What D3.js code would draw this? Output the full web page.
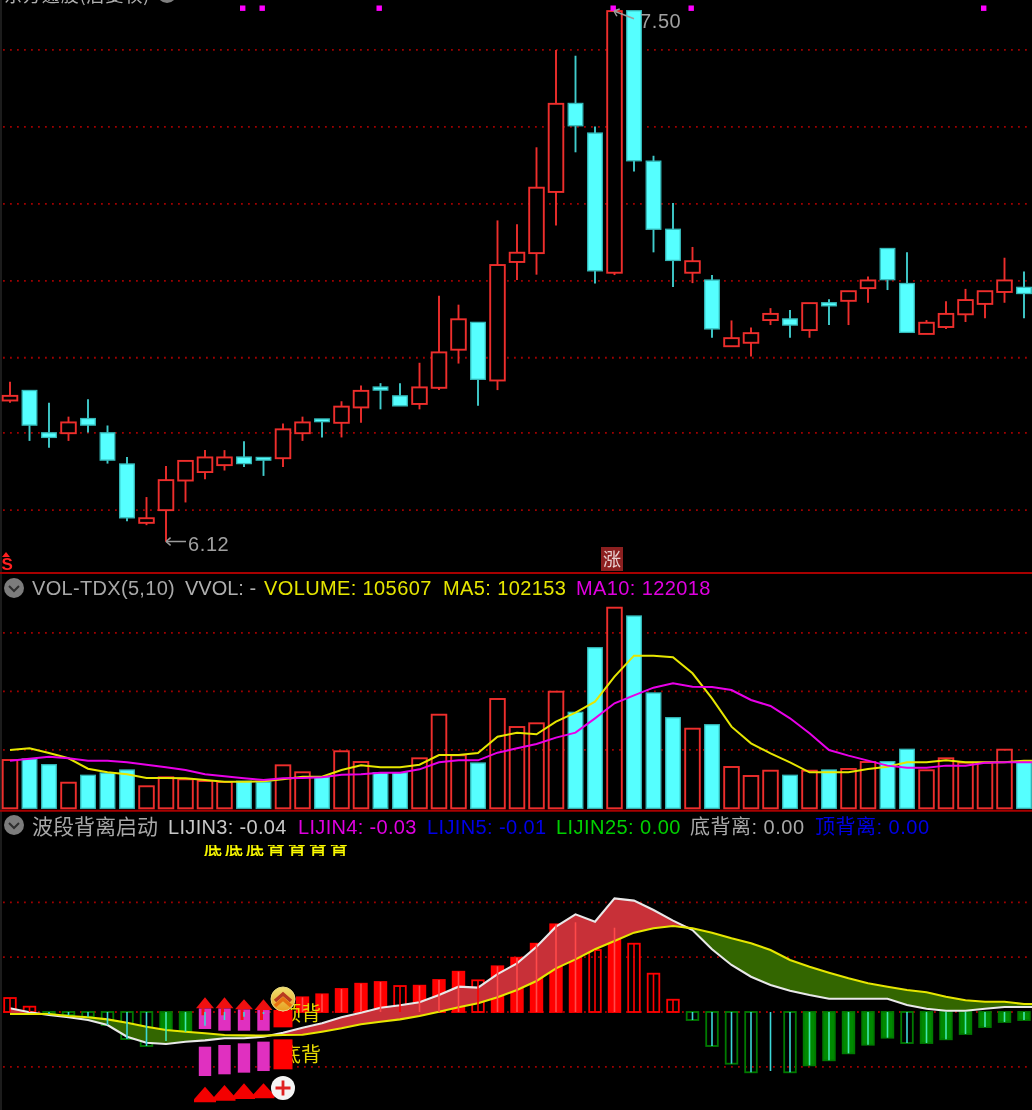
<!DOCTYPE html>
<html><head><meta charset="utf-8">
<script src="https://cdn.jsdelivr.net/npm/d3@7/dist/d3.min.js"></script>
<style>html,body{margin:0;padding:0;background:#000;overflow:hidden}svg{display:block;filter:blur(.4px)}text{font-family:"Liberation Sans",Arial,sans-serif}</style>
</head><body><svg id="c" width="1032" height="1110"></svg>
<script>
const opens=[6.487,6.513,6.403,6.402,6.440,6.403,6.322,6.169,6.202,6.279,6.301,6.319,6.340,6.339,6.337,6.402,6.439,6.429,6.469,6.522,6.499,6.478,6.520,6.619,6.690,6.539,6.847,6.870,7.029,7.259,7.182,6.819,7.500,7.109,6.932,6.819,6.800,6.628,6.637,6.696,6.699,6.670,6.741,6.746,6.779,6.882,6.791,6.660,6.678,6.711,6.738,6.769,6.781];
const highs=[6.536,6.513,6.481,6.445,6.490,6.422,6.340,6.236,6.317,6.330,6.358,6.358,6.381,6.339,6.427,6.445,6.439,6.485,6.526,6.532,6.532,6.585,6.759,6.736,6.690,6.955,6.945,7.145,7.398,7.383,7.199,7.499,7.500,7.123,7.000,6.886,6.813,6.695,6.677,6.727,6.722,6.740,6.750,6.771,6.809,6.882,6.872,6.696,6.745,6.777,6.771,6.858,6.822];
const lows=[6.481,6.382,6.364,6.382,6.404,6.323,6.173,6.163,6.120,6.222,6.282,6.305,6.314,6.291,6.314,6.382,6.391,6.391,6.429,6.464,6.473,6.464,6.514,6.583,6.473,6.514,6.800,6.814,6.942,7.132,6.791,6.813,7.082,6.872,6.782,6.792,6.650,6.628,6.601,6.683,6.650,6.650,6.683,6.683,6.741,6.774,6.664,6.660,6.673,6.691,6.701,6.741,6.701];
const closes=[6.499,6.423,6.391,6.430,6.423,6.332,6.182,6.181,6.280,6.330,6.339,6.339,6.323,6.332,6.412,6.430,6.432,6.471,6.512,6.514,6.473,6.521,6.612,6.698,6.542,6.839,6.871,7.040,7.258,7.201,6.824,7.499,7.110,6.932,6.851,6.849,6.673,6.649,6.662,6.712,6.683,6.740,6.733,6.771,6.799,6.801,6.664,6.689,6.712,6.748,6.771,6.799,6.765];
const priceUp=[1,0,0,1,0,0,0,1,1,1,1,1,0,0,1,1,0,1,1,0,0,1,1,1,0,1,1,1,1,0,0,1,0,0,0,1,0,1,1,1,0,1,0,1,1,0,0,1,1,1,1,1,0];
const priceGrid=[6.202,6.403,6.598,6.798,6.998,7.198,7.398];
const signalMarks=[12,13,19,31,35,50];

const volumes=[109.4,111.7,98.8,58.0,74.8,80.0,86.8,49.9,70.2,65.7,61.9,59.6,61.2,59.6,97.4,81.6,70.9,129.2,104.9,80.7,80.7,113.3,212.1,120.1,102.6,247.7,184.2,192.6,264.2,217.5,363.9,454.6,435.8,261.3,205.3,180.4,189.4,93.6,73.2,85.2,74.8,85.2,86.8,89.1,104.9,105.6,133.7,86.1,113.3,103.3,103.3,132.8,105.6];
const ma5=[132.1,135.9,125.3,113.3,89.8,81.5,77.0,68.7,68.7,67.9,64.2,60.4,60.4,61.1,65.7,71.7,71.7,86.8,97.4,92.9,92.9,98.9,120.8,120.8,125.3,162.3,171.4,167.6,196.3,216.7,241.7,298.3,345.9,345.9,342.1,305.9,249.2,185.0,147.2,124.6,104.2,81.5,81.5,81.5,89.1,94.4,104.2,104.2,108.7,104.2,104.2,104.2,108.0,108.0];
const ma10=[108.0,112.5,117.0,113.3,108.0,108.0,104.2,98.9,92.9,86.8,77.0,72.5,67.9,64.2,67.9,68.7,70.2,76.2,77.0,80.8,80.8,88.3,104.2,108.7,108.7,126.1,135.9,145.7,160.1,171.4,203.9,237.9,256.0,273.4,283.2,275.6,274.9,268.1,245.4,231.8,203.9,169.9,132.1,119.3,108.0,96.7,92.1,92.1,96.7,96.7,103.4,104.2,104.2,104.2];
const volGrid=[132.5,265,397.5];

const lijinWhite=[.0067,-.0006,-.0055,-.0097,-.0146,-.0237,-.0450,-.0560,-.0584,-.0542,-.0517,-.0480,-.0480,-.0450,-.0377,-.0286,-.0207,-.0097,-.0013,.0079,.0122,.0177,.0310,.0462,.0444,.0693,.0888,.1192,.1557,.1782,.1648,.2074,.2032,.1861,.1667,.1496,.1144,.0858,.0644,.0493,.0389,.0310,.0243,.0243,.0243,.0243,.0128,.0060,.0024,.0024,.0060,.0091,.0091,.0091];
const lijinYellow=[-.0036,-.0036,-.0036,-.0073,-.0097,-.0134,-.0195,-.0268,-.0328,-.0359,-.0389,-.0420,-.0426,-.0432,-.0420,-.0414,-.0359,-.0298,-.0225,-.0177,-.0134,-.0073,.0006,.0085,.0158,.0268,.0401,.0566,.0797,.0961,.1144,.1296,.1448,.1527,.1570,.1527,.1448,.1345,.1253,.1131,.0949,.0827,.0717,.0615,.0524,.0462,.0401,.0359,.0279,.0214,.0188,.0188,.0146,.0146];
const lijinBars=[.0255,.0097,-.0036,-.0055,-.0086,-.0237,-.0493,-.0620,-.0529,-.0365,-.0250,-.0146,-.0086,-.0036,.0036,.0268,.0323,.0420,.0516,.0547,.0474,.0480,.0584,.0735,.0578,.0834,.0991,.1246,.1600,.1637,.1131,.1538,.1246,.0699,.0224,-.0146,-.0620,-.0943,-.1100,-.1077,-.1100,-.0973,-.0881,-.0754,-.0597,-.0469,-.0566,-.0566,-.0498,-.0401,-.0274,-.0182,-.0146];
const barKinds=["h","h","h","h","h","h","h","h","s","s","l","l","l","l","s","s","s","s","s","s","h","s","s","s","h","s","s","s","s","s","h","s","h","h","h","h","h","h","h","l","h","s","s","s","s","s","h","s","s","s","s","s","s"];
const lijinGrid=[.2,.1,0,-.1];
const sigIdx=[10,11,12,13,14];
const upTop=[.0067,.0067,.0049,.0036,.0036];
const upBot=[-.0310,-.0341,-.0341,-.0341,-.0280];
const lowTop=[-.0633,-.0602,-.0572,-.0541,-.0499];
const lowBot=[-.1168,-.1137,-.1107,-.1077,-.1046];
const arrowTip=[.0268,.0268,.0231,.0231];
const triTop=[-.1363,-.1332,-.1301,-.1301];
const triBot=[-.1648,-.1618,-.1588,-.1575];
const sigWick=[-.006,-.006,-.0146,-.0146];

const titleText="东方通股(后复权)";
const legendVolLabels=["VOL-TDX(5,10)","VVOL: -","VOLUME: 105607","MA5: 102153","MA10: 122018"];
const legendOscLabels=["波段背离启动","LIJIN3: -0.04","LIJIN4: -0.03","LIJIN5: -0.01","LIJIN25: 0.00","底背离: 0.00","顶背离: 0.00"];
const lowLabel="6.12",highLabel="7.50",riseLabel="涨",sellLabel="S";
const signalRow="底底底背背背背",topDiv="顶背",botDiv="底背";

const svg=d3.select("#c");
svg.append("rect").attr("width",1032).attr("height",1110).attr("fill","#000");
const x=d3.scalePoint().domain(d3.range(54)).range([10,1043.5]);
const nC=volumes.length;
const yP=d3.scaleLinear().domain([6.12,7.5]).range([541.7,10.7]);
const yV=d3.scaleLinear().domain([0,454.6]).range([808.3,607.7]);
const yL=d3.scaleLinear().domain([0,.2]).range([1012,902.4]);
const RED="#ee2e2c",CY="#55ffff",CYB="#34b8b8";
const CN='"Noto Sans CJK SC","Liberation Sans",sans-serif';

function grid(vals,sc){svg.append("g").selectAll("line").data(vals).join("line")
 .attr("x1",3).attr("x2",1032).attr("y1",d=>sc(d)).attr("y2",d=>sc(d))
 .attr("stroke","#a00000").attr("stroke-width",1.8).attr("stroke-dasharray","1.8 5.2");}
grid(priceGrid,yP);grid(volGrid,yV);grid(lijinGrid,yL);

svg.append("line").attr("x1",1).attr("x2",1).attr("y1",0).attr("y2",1110).attr("stroke","#262626").attr("stroke-width",1.5);
[573,810.7].forEach(y=>svg.append("line").attr("x1",0).attr("x2",1032).attr("y1",y).attr("y2",y).attr("stroke","#a80000").attr("stroke-width",2));

const gC=svg.append("g");
d3.range(nC).forEach(i=>{
 const up=priceUp[i],c=up?RED:"#40cccc",top=Math.max(opens[i],closes[i]),bot=Math.min(opens[i],closes[i]);
 gC.append("line").attr("x1",x(i)).attr("x2",x(i)).attr("y1",yP(highs[i])).attr("y2",yP(top)).attr("stroke",c).attr("stroke-width",1.9);
 gC.append("line").attr("x1",x(i)).attr("x2",x(i)).attr("y1",yP(bot)).attr("y2",yP(lows[i])).attr("stroke",c).attr("stroke-width",1.9);
 gC.append("rect").attr("x",x(i)-7.3).attr("width",14.6).attr("y",yP(top)).attr("height",Math.max(yP(bot)-yP(top),1))
  .attr("fill",up?"#000":CY).attr("stroke",up?RED:CYB).attr("stroke-width",up?1.9:1.3);
});
svg.append("g").selectAll("rect").data(signalMarks).join("rect")
 .attr("x",d=>x(d)-4).attr("y",5.5).attr("width",5.4).attr("height",5.4).attr("fill","#ff00ff");

function note(txt,tx,ty,x1,y1,x2,y2){
 const g=svg.append("g").attr("stroke","#9c9c9c").attr("stroke-width",1.5).attr("fill","none");
 g.append("line").attr("x1",x1).attr("y1",y1).attr("x2",x2).attr("y2",y2);
 const a=Math.atan2(y1-y2,x1-x2);
 [-.7,.7].forEach(t=>g.append("line").attr("x1",x2).attr("y1",y2).attr("x2",x2+6*Math.cos(a+t)).attr("y2",y2+6*Math.sin(a+t)));
 svg.append("text").attr("x",tx).attr("y",ty).attr("fill","#a0a0a0").attr("font-size",20).style("letter-spacing",".6px").text(txt);
}
note(lowLabel,188,551,186,541.5,166,541.5);
note(highLabel,640,28,634,18.7,614,11);

svg.append("text").attr("x",4).attr("y",2).attr("fill","#b0b0b0").attr("font-size",18).style("letter-spacing",".9px").style("font-family",CN).text(titleText);
svg.append("circle").attr("cx",167).attr("cy",-7).attr("r",10).attr("fill","#808080");

svg.append("path").attr("d",d3.line()([[2,557],[6,552],[10,557]])+"Z").attr("fill","#ff2020");
svg.append("text").attr("x",1.5).attr("y",570).attr("fill","#ff2020").attr("font-size",17).attr("font-weight","bold").text(sellLabel);
svg.append("rect").attr("x",601).attr("y",547).attr("width",22).attr("height",24).attr("fill","#8c2020");
svg.append("text").attr("x",612).attr("y",566).attr("text-anchor","middle").attr("fill","#e8d0d0").attr("font-size",18).style("font-family",CN).text(riseLabel);

function legend(labels,xs,cols,y,sizes,spacing){labels.forEach((t,i)=>{svg.append("text").attr("x",xs[i]).attr("y",y).attr("fill",cols[i]).attr("font-size",sizes[i])
  .style("letter-spacing",spacing[i]+"px").style("font-family",'"Liberation Sans","Noto Sans CJK SC",sans-serif').text(t);});}
legend(legendVolLabels,[32,185,264,443,576],["#a8a8a8","#b0b0b0","#e6e600","#e6e600","#e000e0"],595,[20,20,20,20,20],[.32,0,.38,.38,.4]);
legend(legendOscLabels,[32,168,298,427,556,690,815],["#a8a8a8","#c8c8c8","#e000e0","#0000e8","#00d000","#a8a8a8","#0000e8"],834,[21,20,20,20,20,20,20],[0,.32,.32,.38,.45,.5,.5]);
function badge(cy){svg.append("circle").attr("cx",14).attr("cy",cy).attr("r",10).attr("fill","#7c7c7c");
 svg.append("path").attr("d",d3.line()([[9,cy-2],[14,cy+3],[19,cy-2]])).attr("fill","none").attr("stroke","#2e2e2e").attr("stroke-width",2);}
badge(588);badge(825);

svg.append("g").selectAll("rect").data(volumes).join("rect")
 .attr("x",(d,i)=>x(i)-7.3).attr("width",14.6).attr("y",d=>yV(d)).attr("height",d=>yV(0)-yV(d))
 .attr("fill",(d,i)=>priceUp[i]?"none":CY).attr("stroke",(d,i)=>priceUp[i]?RED:CYB).attr("stroke-width",(d,i)=>priceUp[i]?1.9:1.3);
const lineV=d3.line().x((d,i)=>x(i)).y(d=>yV(d));
svg.append("path").attr("d",lineV(ma5)).attr("fill","none").attr("stroke","#e6e600").attr("stroke-width",2);
svg.append("path").attr("d",lineV(ma10)).attr("fill","none").attr("stroke","#e800e8").attr("stroke-width",2);

svg.append("defs").append("clipPath").attr("id","sigclip").append("rect").attr("x",195).attr("y",845).attr("width",160).attr("height",11);
svg.append("g").attr("clip-path","url(#sigclip)").append("text").attr("x",204).attr("y",855).attr("fill","#ffff00").attr("stroke","#ffff00").attr("stroke-width",.4)
 .attr("font-size",18).style("letter-spacing","3px").style("font-family",CN).text(signalRow);

const gB=svg.append("g");
d3.range(nC).forEach(i=>{
 const v=lijinBars[i],k=barKinds[i],pos=v>=0,c=pos?"#ff0000":"#007a00";
 if(k==="l")return;
 const ty=yL(Math.max(v,0)),by=yL(Math.min(v,0));
 gB.append("rect").attr("x",x(i)-5.8).attr("width",11.6).attr("y",ty).attr("height",by-ty)
  .attr("fill",k==="s"?(pos?"#ff0000":"#008a00"):"none").attr("stroke",c).attr("stroke-width",1.8);
});

const aUp=d3.area().x((d,i)=>x(i)).y0((d,i)=>yL(lijinYellow[i])).y1((d,i)=>yL(Math.max(d,lijinYellow[i])));
const aDn=d3.area().x((d,i)=>x(i)).y0((d,i)=>yL(lijinYellow[i])).y1((d,i)=>yL(Math.min(d,lijinYellow[i])));
svg.append("path").attr("d",aUp(lijinWhite)).attr("fill","#c83038");
svg.append("path").attr("d",aDn(lijinWhite)).attr("fill","#336600");

svg.append("text").attr("x",281).attr("y",1021).attr("fill","#e6d800").attr("font-size",20).style("font-family",CN).text(topDiv);
svg.append("text").attr("x",281).attr("y",1062).attr("fill","#e6d800").attr("font-size",20).style("font-family",CN).text(botDiv);

const lineL=d3.line().x((d,i)=>x(i)).y(d=>yL(d));
svg.append("path").attr("d",lineL(lijinWhite)).attr("fill","none").attr("stroke","#e8e8e8").attr("stroke-width",2.1);
svg.append("path").attr("d",lineL(lijinYellow)).attr("fill","none").attr("stroke","#e6e600").attr("stroke-width",2.1);

const gS=svg.append("g");
sigIdx.forEach((i,n)=>{
 const f=i===14?"#ff0000":"#e030c0";
 const w=i===14?9.5:6.2;
 gS.append("rect").attr("x",x(i)-w).attr("width",2*w).attr("y",yL(upTop[n])).attr("height",yL(upBot[n])-yL(upTop[n])).attr("fill",f);
 gS.append("rect").attr("x",x(i)-w).attr("width",2*w).attr("y",yL(lowTop[n])).attr("height",yL(lowBot[n])-yL(lowTop[n])).attr("fill",f);
 if(i===14)return;
 gS.append("path").attr("d",d3.line()([[x(i)-9,yL(upTop[n])],[x(i),yL(arrowTip[n])],[x(i)+9,yL(upTop[n])]])+"Z").attr("fill","#f01010");
 const b=yL(triBot[n]),t=yL(triTop[n]),sh=b-(b-t)*.2;
 gS.append("path").attr("d",d3.line()([[x(i)-11,b],[x(i)-11,sh],[x(i),t],[x(i)+11,sh],[x(i)+11,b]])+"Z").attr("fill","#f40000");
 gS.append("line").attr("x1",x(i)-2).attr("x2",x(i)-2).attr("y1",yL(upTop[n])).attr("y2",yL(sigWick[n])).attr("stroke","#f01010").attr("stroke-width",3);
});

d3.range(nC).forEach(i=>{
 const v=lijinBars[i],k=barKinds[i],pos=v>=0;
 const c=pos?(k==="s"?"#ff4a4a":"#ff0000"):(k==="s"?"#40e8b0":"#3cd8d8");
 svg.append("line").attr("x1",x(i)).attr("x2",x(i)).attr("y1",yL(0)).attr("y2",yL(v)).attr("stroke",c).attr("stroke-width",1.6);
});

const defs=svg.append("defs");
const g1=defs.append("linearGradient").attr("id","gold").attr("x1",0).attr("x2",0).attr("y1",0).attr("y2",1);
g1.append("stop").attr("offset",0).attr("stop-color","#f0e070");g1.append("stop").attr("offset",1).attr("stop-color","#e8a020");
const ix=x(14);
svg.append("circle").attr("cx",ix).attr("cy",999).attr("r",12).attr("fill","url(#gold)").attr("stroke","#e8d880").attr("stroke-width",1);
[[1002,"#e87010"],[997,"#b83a20"]].forEach(d=>svg.append("path").attr("d",d3.line()([[ix-8,d[0]+4],[ix,d[0]-3],[ix+8,d[0]+4]])).attr("fill","none").attr("stroke",d[1]).attr("stroke-width",3.5));
svg.append("circle").attr("cx",ix).attr("cy",1088).attr("r",12).attr("fill","#f4f4f4");
svg.append("path").attr("d",`M${ix-7.5},1088H${ix+7.5}M${ix},1080.5V1095.5`).attr("stroke","#e02020").attr("stroke-width",2.8);
</script></body></html>
